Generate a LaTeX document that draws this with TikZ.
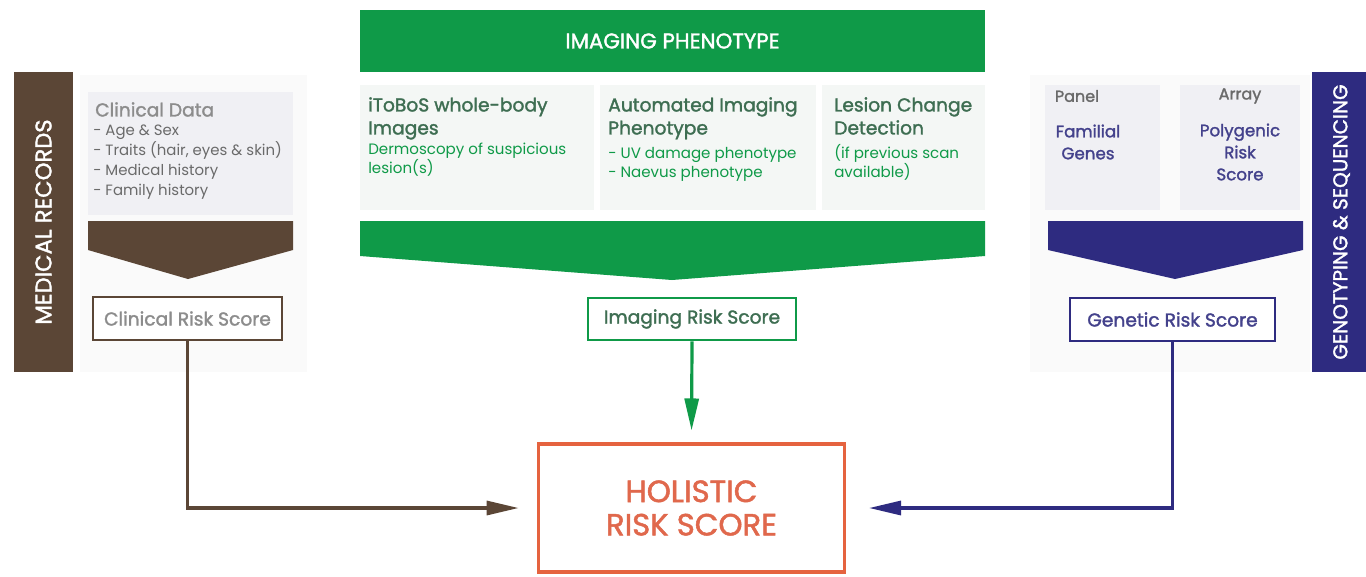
\documentclass[tikz,border=0pt]{standalone}
\usepackage{fontspec}
\setmainfont{Poppins}
\newfontfamily\semib{Poppins}[FakeBold=1.6]
\usetikzlibrary{arrows.meta}
\definecolor{brn}{HTML}{5B4636}
\definecolor{grn}{HTML}{0F9A48}
\definecolor{dgrn}{HTML}{3E6E52}
\definecolor{nvy}{HTML}{2E2B80}
\definecolor{lnvy}{HTML}{44428C}
\definecolor{org}{HTML}{E5633F}
\definecolor{horg}{HTML}{E0684C}
\definecolor{txtg}{HTML}{6A6A6A}
\definecolor{ttlg}{HTML}{8C8C8C}
\definecolor{panel}{HTML}{F0F0F4}
\definecolor{gpanel}{HTML}{F4F7F5}
\definecolor{faint}{HTML}{FAFAFA}
\tikzset{
  sidebar/.style={rotate=90, inner sep=0pt, minimum width=225pt, minimum height=44.25pt, text=white},
  scorebox/.style={draw, line width=1.6pt, fill=white, inner sep=0pt, minimum height=32pt, font=\semib\fontsize{14}{16}\selectfont},
  coltxt/.style={anchor=north west, align=left, inner sep=0pt},
  colhead/.style={font=\semib\fontsize{14}{17.25}\selectfont},
  colsub/.style={font=\fontsize{11.3}{14.25}\selectfont},
  conn/.style={line width=2.4pt, -{Triangle[length=24pt,width=10.5pt]}},
}
\begin{document}
\begin{tikzpicture}[x=0.75pt,y=-0.75pt]
\useasboundingbox (0,0) rectangle (1366,576);
\fill[white] (0,0) rectangle (1366,576);

% faint background panels
\fill[faint] (80,75) rectangle (307,372);
\fill[faint] (1030,75) rectangle (1310,372);

% ---------------- left: medical records
\node[sidebar, fill=brn, font=\semib\fontsize{17}{19}\selectfont] (medrec) at (43.5,222) {MEDICAL RECORDS};
\fill[panel] (88,92) rectangle (293,215);
\node[coltxt, text=ttlg, font=\semib\fontsize{14}{16}\selectfont] (cdtitle) at (95,102) {Clinical Data};
\node[coltxt, text=txtg, font=\fontsize{11.2}{15}\selectfont] (cdlist) at (93,125) {- Age \& Sex\\- Traits (hair, eyes \& skin)\\- Medical history\\- Family history};
\fill[brn] (88,221) -- (293,221) -- (293,250) -- (188,279) -- (88,250) -- cycle;
\node[scorebox, draw=brn, text=ttlg, minimum width=141.75pt] (crs) at (187.5,318.5) {Clinical Risk Score};

% ---------------- middle: imaging phenotype
\node[fill=grn, text=white, inner sep=0pt, minimum width=468.75pt, minimum height=46.5pt, font=\semib\fontsize{16}{18}\selectfont] (imgph) at (672.5,41) {IMAGING PHENOTYPE};
\fill[gpanel] (360,85) rectangle (594,210);
\fill[gpanel] (600,85) rectangle (816,210);
\fill[gpanel] (822,85) rectangle (985,210);
\node[coltxt, text=dgrn, colhead] (c1h) at (368,97) {iToBoS whole-body\\Images};
\node[coltxt, text=grn, colsub] (c1s) at (368,143) {Dermoscopy of suspicious\\lesion(s)};
\node[coltxt, text=dgrn, colhead] (c2h) at (608,97) {Automated Imaging\\Phenotype};
\node[coltxt, text=grn, colsub] (c2s) at (608,147) {- UV damage phenotype\\- Naevus phenotype};
\node[coltxt, text=dgrn, colhead] (c3h) at (834,97) {Lesion Change\\Detection};
\node[coltxt, text=grn, colsub] (c3s) at (834,144) {(if previous scan\\available)};
\fill[grn] (360,221) -- (985,221) -- (985,256) -- (672,280) -- (360,256) -- cycle;
\node[scorebox, draw=grn, text=dgrn, minimum width=156pt] (irs) at (692,319) {Imaging Risk Score};

% ---------------- right: genotyping
\node[sidebar, fill=nvy, font=\semib\fontsize{15}{17}\selectfont] (genseq) at (1341.5,222) {GENOTYPING \& SEQUENCING};
\fill[panel] (1045,85) rectangle (1160,210);
\fill[panel] (1180,85) rectangle (1300,210);
\node[text=txtg, inner sep=0pt, font=\semib\fontsize{12}{14}\selectfont] (panel) at (1077,96) {Panel};
\node[text=txtg, inner sep=0pt, font=\semib\fontsize{12}{14}\selectfont] (array) at (1240,96) {Array};
\node[text=lnvy, align=center, inner sep=0pt, font=\semib\fontsize{12.5}{16.5}\selectfont] (famg) at (1088,142) {Familial\\Genes};
\node[text=lnvy, align=center, inner sep=0pt, font=\semib\fontsize{12.5}{16.5}\selectfont] (prs) at (1240,152) {Polygenic\\Risk\\Score};
\fill[nvy] (1048,221) -- (1303,221) -- (1303,250) -- (1175,279) -- (1048,250) -- cycle;
\node[scorebox, draw=nvy, text=lnvy, minimum width=153.75pt] (grs) at (1172.5,319.5) {Genetic Risk Score};

% ---------------- holistic
\node[draw=org, line width=2.3pt, inner sep=0pt, minimum width=230pt, minimum height=96pt, text=horg, align=center, font=\semib\fontsize{23}{25}\selectfont] (hol) at (691.5,508) {HOLISTIC\\RISK SCORE};

% ---------------- connectors
\draw[conn, brn, shorten >=13.5pt] (crs.south) |- (hol.west);
\draw[conn, grn, shorten >=9pt] (irs.south) -- (hol.north);
\draw[conn, nvy, shorten >=17pt] (grs.south) |- (hol.east);
\end{tikzpicture}
\end{document}
